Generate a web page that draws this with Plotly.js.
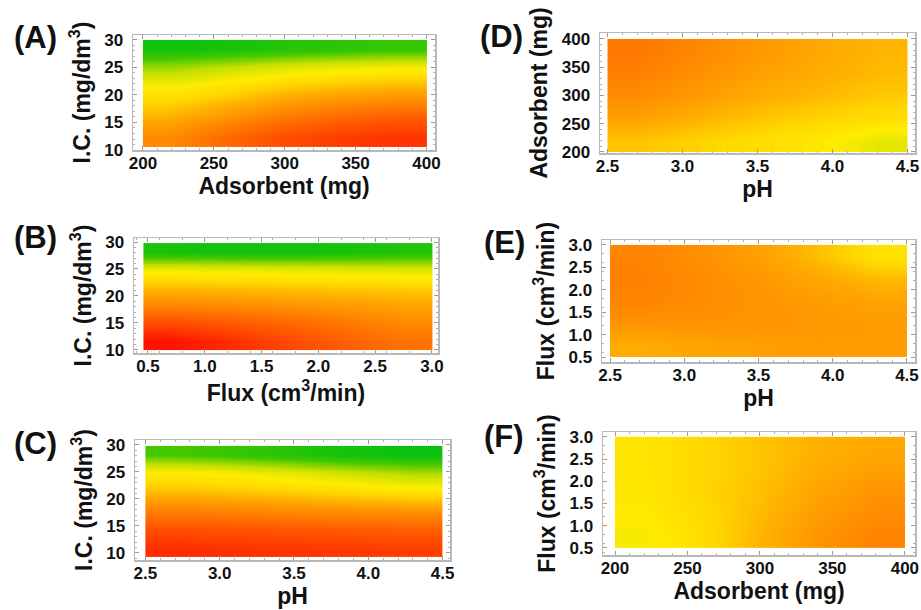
<!DOCTYPE html>
<html>
<head>
<meta charset="utf-8">
<script src="https://cdn.plot.ly/plotly-3.0.1.min.js"></script>
<style>
html,body{margin:0;padding:0;background:#fff;}
#chart{width:921px;height:610px;}
</style>
</head>
<body>
<div id="chart"></div>
<script>
// ---- Data (cell edges along each axis; z values = relative response, 0 = red ... 1 = green) ----
// Panel A: I.C. vs Adsorbent
var adsEdges = [200, 240, 280, 320, 360, 400];
var icEdgesA = [10.5, 13.75, 17, 20.25, 23.5, 26.75, 30];
var zA = [
  [0.32, 0.24, 0.17, 0.13, 0.11],
  [0.40, 0.33, 0.26, 0.22, 0.19],
  [0.49, 0.43, 0.37, 0.33, 0.31],
  [0.60, 0.55, 0.49, 0.46, 0.44],
  [0.75, 0.70, 0.65, 0.62, 0.60],
  [0.96, 0.95, 0.92, 0.90, 0.88]
];
// Panel B: I.C. vs Flux
var fluxEdgesB = [0.46, 0.97, 1.48, 1.99, 2.49, 3.0];
var icEdgesB = [10, 13.3, 16.6, 19.9, 23.2, 26.5, 29.8];
var zB = [
  [0.04, 0.10, 0.16, 0.22, 0.27],
  [0.17, 0.20, 0.24, 0.28, 0.32],
  [0.32, 0.33, 0.35, 0.37, 0.39],
  [0.44, 0.45, 0.46, 0.47, 0.48],
  [0.60, 0.61, 0.62, 0.63, 0.64],
  [0.95, 0.96, 0.96, 0.95, 0.93]
];
// Panel C: I.C. vs pH
var phEdges = [2.5, 2.9, 3.3, 3.7, 4.1, 4.5];
var icEdgesC = [9.3, 12.72, 16.13, 19.55, 22.97, 26.38, 29.8];
var zC = [
  [0.10, 0.11, 0.12, 0.13, 0.14],
  [0.18, 0.19, 0.20, 0.21, 0.22],
  [0.30, 0.31, 0.33, 0.34, 0.35],
  [0.44, 0.46, 0.48, 0.51, 0.54],
  [0.56, 0.59, 0.63, 0.68, 0.72],
  [0.85, 0.88, 0.92, 0.96, 0.98]
];
// Panel D: Adsorbent vs pH
var zD = [
  [0.46, 0.49, 0.52, 0.56, 0.63],
  [0.38, 0.42, 0.46, 0.49, 0.52],
  [0.33, 0.37, 0.41, 0.44, 0.47],
  [0.30, 0.34, 0.38, 0.41, 0.44],
  [0.28, 0.32, 0.36, 0.40, 0.43]
];
// Panel E: Flux vs pH
var fluxEdges = [0.5, 1.0, 1.5, 2.0, 2.5, 3.0];
var zE = [
  [0.41, 0.39, 0.38, 0.37, 0.37],
  [0.35, 0.35, 0.35, 0.36, 0.37],
  [0.31, 0.33, 0.35, 0.37, 0.39],
  [0.30, 0.33, 0.36, 0.40, 0.44],
  [0.31, 0.34, 0.38, 0.45, 0.54]
];
// Panel F: Flux vs Adsorbent
var zF = [
  [0.60, 0.52, 0.43, 0.35, 0.31],
  [0.57, 0.51, 0.44, 0.37, 0.33],
  [0.56, 0.50, 0.45, 0.39, 0.35],
  [0.55, 0.50, 0.46, 0.41, 0.38],
  [0.55, 0.50, 0.46, 0.42, 0.40]
];
// Tick labels
var icTicks = [10, 15, 20, 25, 30];
var adsTicks = [200, 250, 300, 350, 400];
var fluxTicksB = [0.5, 1.0, 1.5, 2.0, 2.5, 3.0];
var phTicks = [2.5, 3.0, 3.5, 4.0, 4.5];
var fluxTicks = [0.5, 1.0, 1.5, 2.0, 2.5, 3.0];
var panelLabels = ['(A)', '(B)', '(C)', '(D)', '(E)', '(F)'];

// ---- Styling ----
var W = 921, H = 610;
var colors = [
  [0.00, '#ff0000'], [0.15, '#ff4400'], [0.30, '#ff8000'], [0.42, '#ffb000'],
  [0.50, '#ffd800'], [0.58, '#ffec00'], [0.70, '#c4e000'], [0.85, '#44c800'], [1.00, '#00c010']
];
var FONT = 'Liberation Sans, Arial, sans-serif';

var panels = [
  {x: adsEdges, y: icEdgesA, z: zA, box: [133, 435, 35, 150], xr: [193, 406], yr: [10, 30.9],
   xt: adsTicks, yt: icTicks, xfmt: '', yfmt: '', xtitle: 'Adsorbent (mg)', ytitle: 'I.C. (mg/dm<sup>3</sup>)', lab: [12, 37]},
  {x: fluxEdgesB, y: icEdgesB, z: zB, box: [134, 438, 238, 353], xr: [0.377, 3.053], yr: [9.44, 30.74],
   xt: fluxTicksB, yt: icTicks, xfmt: '.1f', yfmt: '', xtitle: 'Flux (cm<sup>3</sup>/min)', ytitle: 'I.C. (mg/dm<sup>3</sup>)', lab: [12, 237]},
  {x: phEdges, y: icEdgesC, z: zC, box: [135, 450, 440, 560], xr: [2.43, 4.55], yr: [8.7, 30.9],
   xt: phTicks, yt: icTicks, xfmt: '.1f', yfmt: '', xtitle: 'pH', ytitle: 'I.C. (mg/dm<sup>3</sup>)', lab: [12, 443]},
  {x: phEdges, y: adsEdges, z: zD, box: [600, 915, 33, 153], xr: [2.45, 4.55], yr: [198, 410.6],
   xt: phTicks, yt: adsTicks, xfmt: '.1f', yfmt: '', xtitle: 'pH', ytitle: 'Adsorbent (mg)', lab: [478, 36]},
  {x: phEdges, y: fluxEdges, z: zE, box: [602, 915, 240, 362], xr: [2.446, 4.554], yr: [0.39, 3.11],
   xt: phTicks, yt: fluxTicks, xfmt: '.1f', yfmt: '.1f', xtitle: 'pH', ytitle: 'Flux (cm<sup>3</sup>/min)', lab: [482, 243]},
  {x: adsEdges, y: fluxEdges, z: zF, box: [603, 915, 432, 555], xr: [191.7, 407], yr: [0.34, 3.11],
   xt: adsTicks, yt: fluxTicks, xfmt: '', yfmt: '.1f', xtitle: 'Adsorbent (mg)', ytitle: 'Flux (cm<sup>3</sup>/min)', lab: [482, 436]}
];

var data = [];
var layout = {
  width: W, height: H,
  margin: {l: 0, r: 0, t: 0, b: 0},
  paper_bgcolor: '#ffffff', plot_bgcolor: '#ffffff',
  showlegend: false,
  font: {family: FONT, color: '#111'},
  annotations: []
};

panels.forEach(function (p, i) {
  var n = i === 0 ? '' : String(i + 1);
  data.push({
    type: 'heatmap', x: p.x, y: p.y, z: p.z,
    xaxis: 'x' + n, yaxis: 'y' + n,
    colorscale: colors, zmin: 0, zmax: 1, zsmooth: 'best',
    showscale: false, hoverinfo: 'skip'
  });
  var common = {
    showline: true, mirror: 'ticks', linecolor: '#b8b8b8', linewidth: 1.5,
    ticks: 'inside', ticklen: 4, tickwidth: 1, tickcolor: '#9a9a9a',
    minor: {ticks: 'inside', ticklen: 2, tickcolor: '#b0b0b0', nticks: 5},
    showgrid: false, zeroline: false, fixedrange: true,
    tickfont: {family: FONT, size: 17, weight: 'bold', color: '#111'},
    title: {font: {family: FONT, size: 23, weight: 'bold', color: '#111'}}
  };
  var xa = JSON.parse(JSON.stringify(common));
  xa.domain = [p.box[0] / W, p.box[1] / W];
  xa.range = p.xr;
  xa.tickmode = 'array'; xa.tickvals = p.xt;
  xa.ticktext = p.xt.map(function (v) { return p.xfmt ? v.toFixed(1) : String(v); });
  xa.anchor = 'y' + n;
  xa.ticklabelstandoff = -3;
  xa.title.text = p.xtitle;
  xa.title.standoff = 3;
  var ya = JSON.parse(JSON.stringify(common));
  ya.domain = [1 - p.box[3] / H, 1 - p.box[2] / H];
  ya.range = p.yr;
  ya.tickmode = 'array'; ya.tickvals = p.yt;
  ya.ticktext = p.yt.map(function (v) { return p.yfmt ? v.toFixed(1) : String(v); });
  ya.anchor = 'x' + n;
  ya.ticklabelstandoff = 5;
  ya.title.text = p.ytitle;
  ya.title.standoff = 7;
  layout['xaxis' + n] = xa;
  layout['yaxis' + n] = ya;
  layout.annotations.push({
    xref: 'paper', yref: 'paper', x: p.lab[0] / W, y: 1 - p.lab[1] / H,
    xanchor: 'left', yanchor: 'middle', showarrow: false,
    text: panelLabels[i], font: {family: FONT, size: 31, weight: 'bold', color: '#111'}
  });
});

Plotly.newPlot('chart', data, layout, {staticPlot: true, displayModeBar: false});
</script>
</body>
</html>
